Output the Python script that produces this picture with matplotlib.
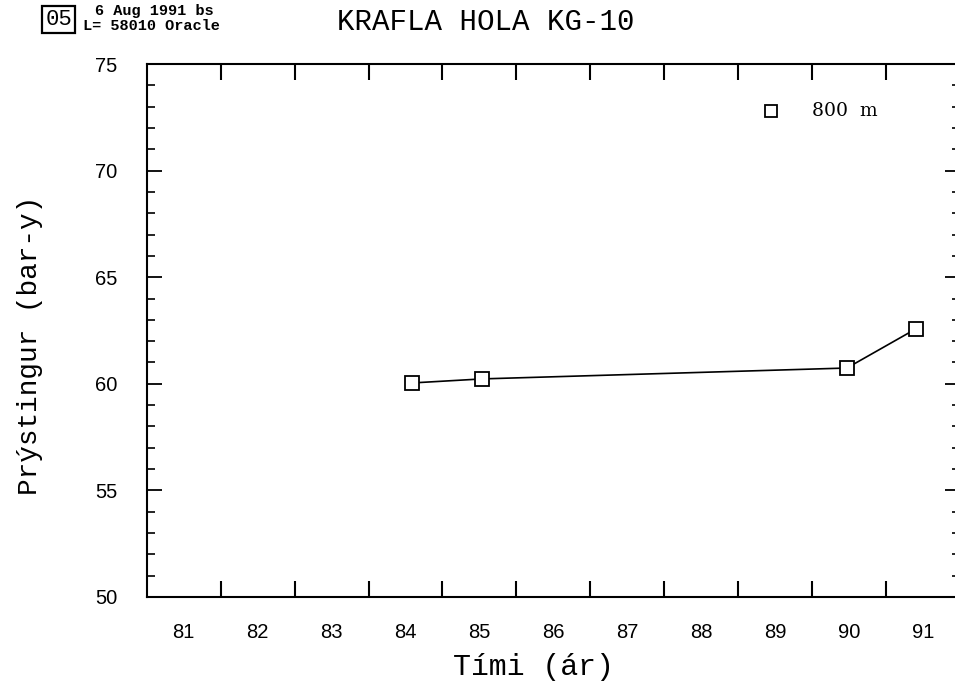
import matplotlib
matplotlib.use("Agg")
import matplotlib.pyplot as plt
from matplotlib.patches import Rectangle

# gögn lesin af myndinni (KG-10, 800 m)
timi = [84.59, 85.54, 90.47, 91.40]
thrystingur = [60.04, 60.23, 60.74, 62.57]

ar_merki = ["81", "82", "83", "84", "85", "86", "87", "88", "89", "90", "91"]
ar_stadur = [81.5 + i for i in range(len(ar_merki))]
ar_skil = list(range(82, 92))

y_merki = [50, 55, 60, 65, 70, 75]
y_smaa = list(range(50, 76))

fig = plt.figure(figsize=(9.55, 6.89), dpi=100)
ax = fig.add_axes([146.7 / 955, 1 - 597 / 689, (960 - 146.7) / 955, (597 - 64) / 689])

ax.plot(timi, thrystingur, color="black", linewidth=1.2, marker="s",
        markersize=9.5, markerfacecolor="white", markeredgecolor="black",
        markeredgewidth=1.3, clip_on=False, zorder=3)

# skýring
ax.plot([89.45], [72.8], marker="s", markersize=9, markerfacecolor="white",
        markeredgecolor="black", markeredgewidth=1.3, linestyle="none")
ax.text(90.0, 72.8, "800  m", fontsize=13.5, family="DejaVu Serif",
        va="center", ha="left")

ax.set_xlim(81, 92)
ax.set_ylim(50, 75)

for s in ax.spines.values():
    s.set_linewidth(1.5)

ax.set_xticks(ar_skil)
ax.set_xticklabels([])
ax.set_xticks(ar_stadur, minor=True)
ax.set_xticklabels(ar_merki, minor=True, fontsize=14.5, family="Liberation Sans")
ax.tick_params(axis="x", which="major", direction="in", length=11.5, width=1.5,
               top=True, bottom=True)
ax.tick_params(axis="x", which="minor", length=0, pad=19)

ax.set_yticks(y_merki)
ax.set_yticklabels([str(v) for v in y_merki], fontsize=14.5, family="Liberation Sans")
ax.set_yticks(y_smaa, minor=True)
ax.tick_params(axis="y", which="major", direction="in", length=11, width=1.3,
               left=True, right=True, pad=21)
ax.tick_params(axis="y", which="minor", direction="in", length=5.5, width=1.2,
               left=True, right=True)

fig.text(533 / 955, 1 - 667 / 689, "Tími (ár)", fontsize=21.5,
         family="Liberation Mono", ha="center", va="center")
fig.text(30 / 955, 1 - 345 / 689, "Prýstingur (bar-y)", fontsize=20,
         family="Liberation Mono", ha="center", va="center", rotation=90)

fig.text(486 / 955, 1 - 22 / 689, "KRAFLA HOLA KG-10", fontsize=21,
         family="Liberation Mono", ha="center", va="center")

# haus efst til vinstri
fig.patches.append(Rectangle((42 / 955, 1 - 33 / 689), 33 / 955, 27 / 689,
                             transform=fig.transFigure, fill=False,
                             edgecolor="black", linewidth=1.6))
fig.text(58.5 / 955, 1 - 19.5 / 689, "05", fontsize=16, family="Liberation Mono",
         ha="center", va="center")
fig.text(95 / 955, 1 - 11 / 689, "6 Aug 1991 bs", fontsize=11,
         family="Liberation Mono", weight="bold", ha="left", va="center")
fig.text(83 / 955, 1 - 26 / 689, "L= 58010 Oracle", fontsize=11,
         family="Liberation Mono", weight="bold", ha="left", va="center")

fig.savefig("out.png", dpi=100)
